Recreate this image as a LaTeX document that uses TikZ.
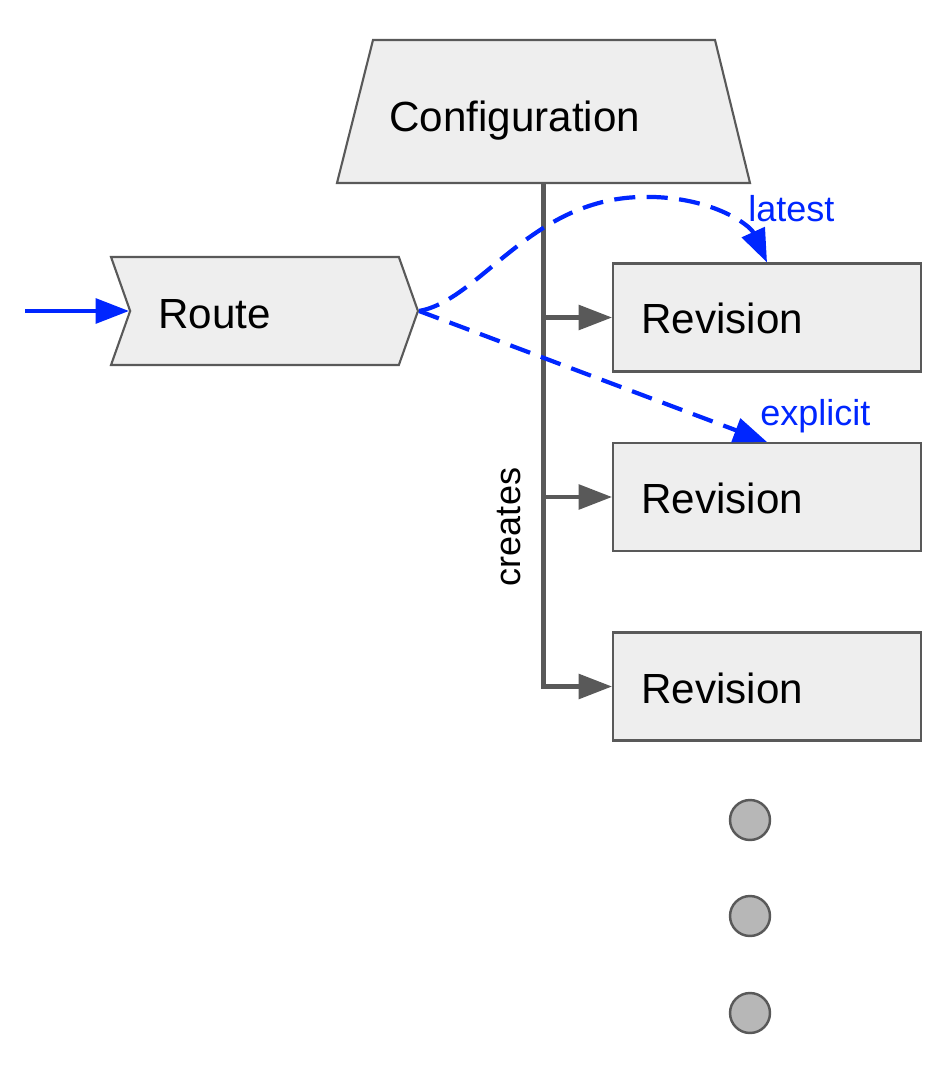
\documentclass[tikz,border=0pt]{standalone}
\usepackage{fontspec}
\setmainfont{Liberation Sans}
\usetikzlibrary{shapes.symbols,arrows.meta}
\definecolor{boxfill}{HTML}{EEEEEE}
\definecolor{boxline}{HTML}{595959}
\definecolor{dotfill}{HTML}{B7B7B7}
\definecolor{refblue}{HTML}{0026FF}

\begin{document}
\begin{tikzpicture}[x=0.02cm, y=-0.02cm,
  big/.style={font=\fontsize{24}{28}\selectfont, inner sep=0pt},
  small/.style={font=\fontsize{20.5}{24}\selectfont, inner sep=0pt},
  objbox/.style={draw=boxline, fill=boxfill, line width=1.2pt, inner sep=1pt},
  revbox/.style={objbox, rectangle, minimum width=6.16cm, minimum height=2.16cm},
  mkarrow/.style={draw=boxline, line width=2.3pt, -{Triangle[length=19pt,width=14pt]}},
  refarrow/.style={draw=refblue, line width=2.4pt, dash pattern=on 12pt off 6.5pt, -{Triangle[length=19pt,width=14pt]}},
  dotnode/.style={circle, draw=boxline, fill=dotfill, line width=1.4pt, minimum size=0.8cm}]
\useasboundingbox (0,0) rectangle (944,1074);

% === Configuration (trapezium) ===
\draw[objbox, line join=miter] (337,183) -- (373,40) -- (715,40) -- (750,183) -- cycle;
\coordinate (config) at (543.5,183);
\node[big, anchor=base west] (configtxt) at (389,132) {Configuration};

% === Route ===
\node[objbox, signal, signal from=west, signal to=east, signal pointer angle=141,
  minimum width=6.14cm, minimum height=2.16cm] (route) at (264.5,311) {};
\node[big, anchor=base west] (routetxt) at (158,328) {Route};
\coordinate (entry) at (25,311);
\draw[refblue, line width=2.4pt, -{Triangle[length=19pt,width=14pt]}] (entry) -- (route.west);

% === Revisions ===
\node[revbox] (rev1) at (767,317.5) {};
\node[revbox] (rev2) at (767,497) {};
\node[revbox] (rev3) at (767,686.5) {};
\node[big, anchor=base west] (rev1txt) at (641,334) {Revision};
\node[big, anchor=base west] (rev2txt) at (641,513) {Revision};
\node[big, anchor=base west] (rev3txt) at (641,703) {Revision};

% creates
\draw[mkarrow] (config) |- (rev3.west);
\draw[mkarrow] (config |- rev1.west) -- (rev1.west);
\draw[mkarrow] (config |- rev2.west) -- (rev2.west);
\node[small, rotate=90, anchor=base] (createstxt) at (520,527) {creates};

% Route targets
\draw[refarrow] (route.east) .. controls (480,300) and (530,200) .. (640,197)
  .. controls (710,195) and (750,225) .. (rev1.north);
\draw[refarrow] (route.east) -- (rev2.north);
\node[small, text=refblue, anchor=base west] (latesttxt) at (748,222) {latest};
\node[small, text=refblue, anchor=base west] (explicittxt) at (760,425) {explicit};

% more revisions
\node[dotnode] (dot1) at (750,820) {};
\node[dotnode] (dot2) at (750,916) {};
\node[dotnode] (dot3) at (750,1013) {};
\end{tikzpicture}
\end{document}
